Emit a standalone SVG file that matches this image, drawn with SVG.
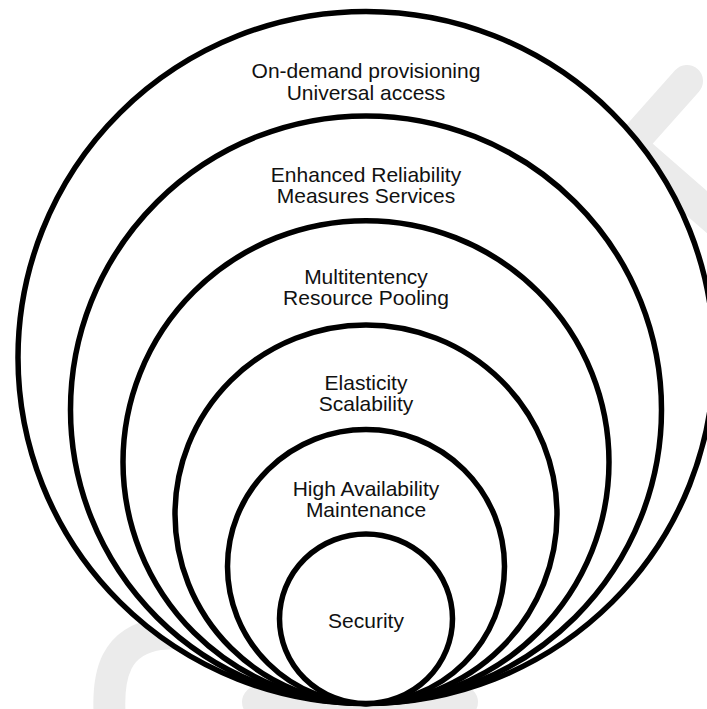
<svg xmlns="http://www.w3.org/2000/svg" width="707" height="709" viewBox="0 0 707 709">
  <style>
    .ring { fill: #ffffff; stroke: #000000; stroke-width: 5.5; }
    .lbl { font-family: "Liberation Sans", Arial, sans-serif; font-size: 21px; fill: #111111; text-anchor: middle; }
    .wm { fill: none; stroke: #ebebeb; stroke-width: 32; stroke-linecap: round; stroke-linejoin: miter; }
  </style>
  <rect x="0" y="0" width="707" height="709" fill="#ffffff"/>
  <g id="watermark">
    <polyline class="wm" points="687,81 630,145 770,267"/>
    <path class="wm" d="M 111 730 C 104 670 118 640 160 634 L 220 630"/>
    <path class="wm" d="M 258 702 L 462 702" stroke-linecap="round"/>
  </g>
  <g id="connectors"></g>
  <g id="node-ondemand">
    <ellipse class="ring" cx="366" cy="357.5" rx="348" ry="346"/>
    <text class="lbl" x="366" y="78">On-demand provisioning</text>
    <text class="lbl" x="366" y="99.5">Universal access</text>
  </g>
  <g id="node-reliability">
    <ellipse class="ring" cx="366" cy="409.7" rx="295.5" ry="293.8"/>
    <text class="lbl" x="366" y="182">Enhanced Reliability</text>
    <text class="lbl" x="366" y="203">Measures Services</text>
  </g>
  <g id="node-multitenancy">
    <ellipse class="ring" cx="366" cy="462.1" rx="243" ry="241.4"/>
    <text class="lbl" x="366" y="284">Multitentency</text>
    <text class="lbl" x="366" y="305">Resource Pooling</text>
  </g>
  <g id="node-elasticity">
    <ellipse class="ring" cx="366" cy="514.2" rx="191" ry="189.3"/>
    <text class="lbl" x="366" y="390">Elasticity</text>
    <text class="lbl" x="366" y="411">Scalability</text>
  </g>
  <g id="node-availability">
    <ellipse class="ring" cx="366" cy="566.5" rx="138.5" ry="137"/>
    <text class="lbl" x="366" y="496">High Availability</text>
    <text class="lbl" x="366" y="516.5">Maintenance</text>
  </g>
  <g id="node-security">
    <ellipse class="ring" cx="366" cy="618.7" rx="86.5" ry="84.8"/>
    <text class="lbl" x="366" y="627.5">Security</text>
  </g>
</svg>
